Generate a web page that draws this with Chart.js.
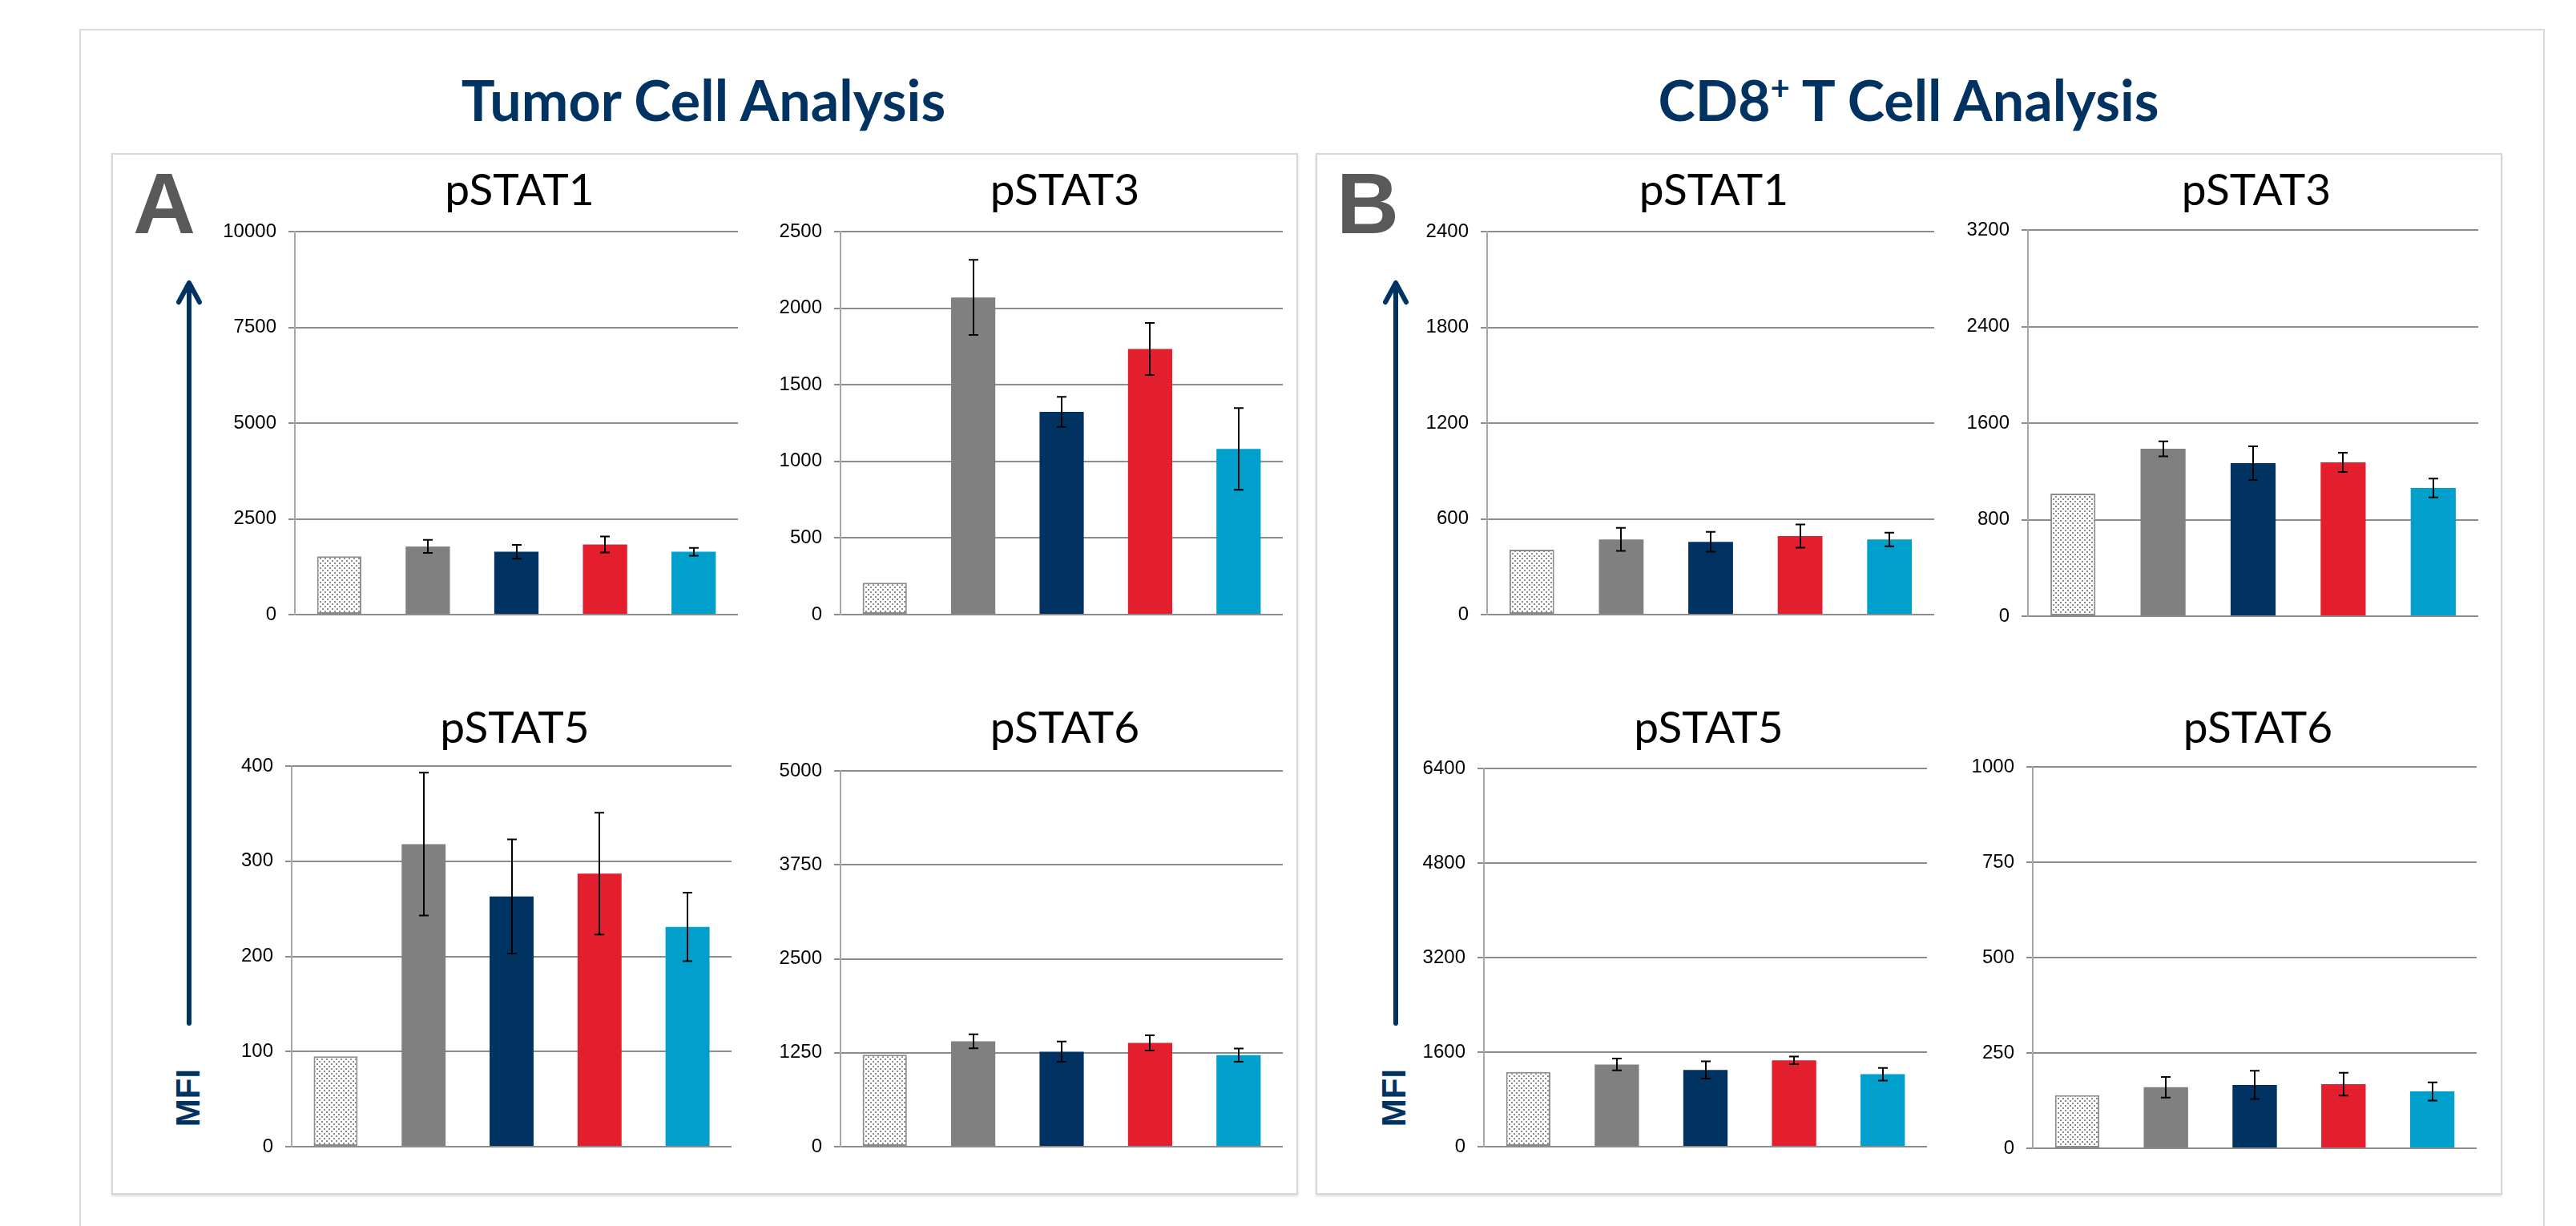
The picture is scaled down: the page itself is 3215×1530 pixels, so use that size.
<!DOCTYPE html>
<html>
<head>
<meta charset="utf-8">
<script src="https://cdn.jsdelivr.net/npm/chart.js@4.4.1/dist/chart.umd.min.js"></script>
<style>
html,body{margin:0;padding:0;background:#fff;}
body{width:3215px;height:1530px;position:relative;overflow:hidden;}
.frame{position:absolute;left:99px;top:36px;width:3077px;height:1600px;border:2px solid #dadada;box-sizing:border-box;}
.panel{position:absolute;top:191px;width:1481px;height:1300px;border:2px solid #d6d6d6;box-sizing:border-box;box-shadow:0 2px 3px rgba(0,0,0,0.12);background:#fff;}
.title{position:absolute;font-family:Lato,'Open Sans',sans-serif;font-weight:700;color:#003361;font-size:70px;line-height:1;white-space:nowrap;transform:translateX(-50%);}
.title sup{font-size:0.6em;vertical-align:0.62em;line-height:0;}
.sub{position:absolute;font-family:Lato,'Open Sans',sans-serif;font-weight:400;color:#000;font-size:55px;line-height:1;white-space:nowrap;transform:translateX(-50%);}
.letter{position:absolute;font-family:'Liberation Sans',Arial,sans-serif;font-weight:700;color:#595959;font-size:108px;line-height:1;}
.mfi{position:absolute;font-family:'Liberation Sans',Arial,sans-serif;font-weight:700;color:#003361;font-size:42px;line-height:1;white-space:nowrap;transform:translate(-50%,-50%) rotate(-90deg);}
canvas{position:absolute;}
svg{position:absolute;left:0;top:0;}
</style>
</head>
<body>
<div class="frame"></div>
<div class="panel" style="left:139px"></div>
<div class="panel" style="left:1642px"></div>

<div class="title" style="left:878px;top:89px">Tumor Cell Analysis</div>
<div class="title" style="left:2382px;top:89px">CD8<sup>+</sup> T Cell Analysis</div>

<div class="letter" style="left:166px;top:200px">A</div>
<div class="letter" style="left:1668px;top:200px">B</div>

<svg width="3215" height="1530">
  <g stroke="#003361" stroke-width="6" fill="none" stroke-linecap="round" stroke-linejoin="round">
    <line x1="236" y1="1277" x2="236" y2="355"/>
    <polyline points="223,377 236,353 249,377"/>
    <line x1="1742" y1="1277" x2="1742" y2="355"/>
    <polyline points="1729,377 1742,353 1755,377"/>
  </g>
</svg>
<div class="mfi" style="left:235px;top:1370px">MFI</div>
<div class="mfi" style="left:1740px;top:1370px">MFI</div>

<script>
// ---- data ----
const groups = ['Group 1', 'Group 2', 'Group 3', 'Group 4', 'Group 5'];
const barColors = ['pattern', '#808080', '#003361', '#E31E2D', '#009FCC'];

const tumorPSTAT1 = [1520, 1780, 1640, 1830, 1640];
const tumorPSTAT1Err = [0, 170, 180, 210, 100];
const tumorPSTAT3 = [208, 2070, 1323, 1734, 1081];
const tumorPSTAT3Err = [0, 245, 98, 170, 267];
const tumorPSTAT5 = [95, 318, 263, 287, 231];
const tumorPSTAT5Err = [0, 75, 60, 64, 36];
const tumorPSTAT6 = [1223, 1402, 1264, 1381, 1218];
const tumorPSTAT6Err = [0, 94, 135, 102, 87];

const cd8PSTAT1 = [407, 471, 456, 492, 471];
const cd8PSTAT1Err = [0, 72, 62, 73, 43];
const cd8PSTAT3 = [1015, 1387, 1268, 1275, 1062];
const cd8PSTAT3Err = [0, 62, 139, 80, 78];
const cd8PSTAT5 = [1264, 1390, 1299, 1460, 1226];
const cd8PSTAT5Err = [0, 100, 146, 65, 107];
const cd8PSTAT6 = [139, 160, 166, 168, 149];
const cd8PSTAT6Err = [0, 27, 37, 30, 24];

// axis ranges [max, step]
const axisTumor1 = [10000, 2500];
const axisTumor3 = [2500, 500];
const axisTumor5 = [400, 100];
const axisTumor6 = [5000, 1250];
const axisCd81 = [2400, 600];
const axisCd83 = [3200, 800];
const axisCd85 = [6400, 1600];
const axisCd86 = [1000, 250];

// ---- helpers ----
function makePattern() {
  const c = document.createElement('canvas');
  c.width = 6; c.height = 6;
  const x = c.getContext('2d');
  x.fillStyle = '#ffffff'; x.fillRect(0, 0, 6, 6);
  x.fillStyle = '#8a8a8a';
  x.fillRect(0, 0, 2, 2);
  x.fillRect(3, 3, 2, 2);
  return x.createPattern(c, 'repeat');
}
const dotPattern = makePattern();

const errorBars = {
  id: 'errorBars',
  afterDatasetsDraw(chart) {
    const ds = chart.data.datasets[0];
    const meta = chart.getDatasetMeta(0);
    const ys = chart.scales.y;
    const ctx = chart.ctx;
    ctx.save();
    ctx.strokeStyle = '#000';
    ctx.lineWidth = 2;
    meta.data.forEach((bar, i) => {
      const e = ds.errors[i];
      if (!e) return;
      const v = ds.data[i];
      const yt = ys.getPixelForValue(v + e);
      const yb = ys.getPixelForValue(v - e);
      const x = Math.round(bar.x);
      const hw = 6;
      ctx.beginPath();
      ctx.moveTo(x, yt); ctx.lineTo(x, yb);
      ctx.moveTo(x - hw, yt); ctx.lineTo(x + hw, yt);
      ctx.moveTo(x - hw, yb); ctx.lineTo(x + hw, yb);
      ctx.stroke();
    });
    ctx.restore();
  }
};

const Y_W = 110, PAD_T = 34, PAD_B = 34;

function makeChart(title, box, values, errors, axis) {
  const cv = document.createElement('canvas');
  const w = Y_W + (box.right - box.left);
  const h = (box.bottom - box.top) + PAD_T + PAD_B;
  cv.width = w; cv.height = h;
  cv.style.left = (box.left - Y_W) + 'px';
  cv.style.top = (box.top - PAD_T) + 'px';
  cv.style.width = w + 'px'; cv.style.height = h + 'px';
  document.body.appendChild(cv);

  const sub = document.createElement('div');
  sub.className = 'sub';
  sub.textContent = title;
  sub.style.left = ((box.left + box.right) / 2 + 4) + 'px';
  sub.style.top = box.titleTop + 'px';
  document.body.appendChild(sub);

  new Chart(cv.getContext('2d'), {
    type: 'bar',
    data: {
      labels: groups,
      datasets: [{
        data: values,
        errors: errors,
        backgroundColor: barColors.map(c => c === 'pattern' ? dotPattern : c),
        borderColor: barColors.map(c => c === 'pattern' ? '#8c8c8c' : 'rgba(0,0,0,0)'),
        borderWidth: barColors.map(c => c === 'pattern' ? 2 : 0),
        borderSkipped: false,
        categoryPercentage: 1.0,
        barPercentage: 0.5
      }]
    },
    options: {
      responsive: false,
      animation: false,
      devicePixelRatio: 1,
      layout: { padding: { top: PAD_T, bottom: PAD_B, left: 0, right: 0 } },
      plugins: { legend: { display: false }, tooltip: { enabled: false }, title: { display: false } },
      scales: {
        x: { display: false },
        y: {
          min: 0, max: axis[0],
          afterFit: (s) => { s.width = Y_W; },
          ticks: {
            stepSize: axis[1],
            padding: 15,
            color: '#000',
            font: { family: "'Liberation Sans', Arial, sans-serif", size: 24 },
            callback: (v) => String(v)
          },
          grid: { color: '#8c8c8c', lineWidth: 2, drawTicks: true, tickLength: 8, tickColor: '#8c8c8c' },
          border: { display: true, color: '#a6a6a6', width: 2 }
        }
      }
    },
    plugins: [errorBars]
  });
}

makeChart('pSTAT1', { left: 368, right: 921, top: 289, bottom: 767, titleTop: 208 }, tumorPSTAT1, tumorPSTAT1Err, axisTumor1);
makeChart('pSTAT3', { left: 1049, right: 1601, top: 289, bottom: 767, titleTop: 208 }, tumorPSTAT3, tumorPSTAT3Err, axisTumor3);
makeChart('pSTAT5', { left: 364, right: 913, top: 956, bottom: 1431, titleTop: 879 }, tumorPSTAT5, tumorPSTAT5Err, axisTumor5);
makeChart('pSTAT6', { left: 1049, right: 1601, top: 962, bottom: 1431, titleTop: 879 }, tumorPSTAT6, tumorPSTAT6Err, axisTumor6);

makeChart('pSTAT1', { left: 1856, right: 2414, top: 289, bottom: 767, titleTop: 208 }, cd8PSTAT1, cd8PSTAT1Err, axisCd81);
makeChart('pSTAT3', { left: 2531, right: 3093, top: 287, bottom: 769, titleTop: 208 }, cd8PSTAT3, cd8PSTAT3Err, axisCd83);
makeChart('pSTAT5', { left: 1852, right: 2405, top: 959, bottom: 1431, titleTop: 879 }, cd8PSTAT5, cd8PSTAT5Err, axisCd85);
makeChart('pSTAT6', { left: 2537, right: 3091, top: 957, bottom: 1433, titleTop: 879 }, cd8PSTAT6, cd8PSTAT6Err, axisCd86);
</script>
</body>
</html>
